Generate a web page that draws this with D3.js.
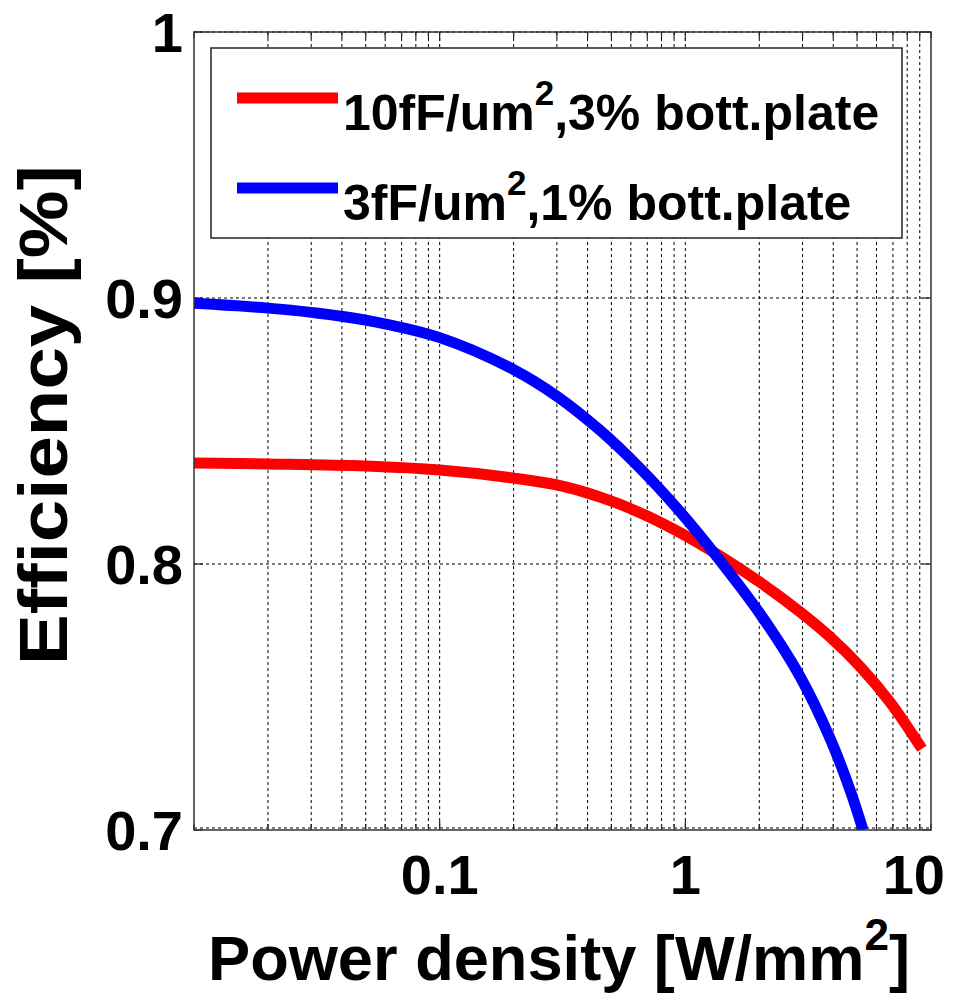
<!DOCTYPE html>
<html>
<head>
<meta charset="utf-8">
<script src="https://cdn.jsdelivr.net/npm/d3@7"></script>
<style>
  body { margin: 0; background: #fff; }
  text { font-family: "Liberation Sans", Arial, sans-serif; font-weight: bold; }
</style>
</head>
<body>
<div id="chart"></div>
<script>
// data
var redPower = [0.01, 0.02, 0.05, 0.1, 0.2, 0.3, 0.449, 0.654, 0.951, 1.384, 2.014, 2.93, 3.88, 5.14, 6.81, 9.19];
var redEff   = [0.838, 0.8376, 0.8368, 0.8353, 0.8323, 0.8297, 0.8252, 0.8193, 0.8118, 0.803, 0.7931, 0.782, 0.7726, 0.7615, 0.7481, 0.7305];
var bluePower = [0.01, 0.02, 0.03, 0.05, 0.1, 0.2, 0.3, 0.449, 0.654, 0.951, 1.384, 2.014, 2.93, 3.88, 4.68, 5.29];
var blueEff   = [0.898, 0.8962, 0.8946, 0.8917, 0.8851, 0.8731, 0.8631, 0.8503, 0.836, 0.8197, 0.8013, 0.7813, 0.7577, 0.7345, 0.7151, 0.700];
var xTickLabels = ["0.1", "1", "10"];
var yTickLabels = ["0.7", "0.8", "0.9", "1"];
var legendNames = [["10fF/um", "2", ",3% bott.plate"], ["3fF/um", "2", ",1% bott.plate"]];
var seriesColors = ["#ff0000", "#0000ff"];

var W = 965, H = 994;
var margin = { top: 32, right: 34, bottom: 164, left: 194 };

var svg = d3.select("#chart").append("svg")
    .attr("width", W)
    .attr("height", H);

var x = d3.scaleLog().domain([0.01, 10]).range([margin.left, W - margin.right]);
var y = d3.scaleLinear().domain([0.7, 1]).range([H - margin.bottom, margin.top]);

// grid (dotted)
var gridX = [];
[0.01, 0.1, 1].forEach(function(dec){
	for (var k = 1; k <= 9; k++) gridX.push(dec * k);
});
gridX.push(10);
var gridY = [0.7, 0.8, 0.9, 1];

var grid = svg.append("g").attr("id", "grid");
grid.selectAll(".gx").data(gridX.slice(1, -1)).join("line")
	.attr("x1", d => x(d)).attr("x2", d => x(d))
	.attr("y1", y(1)).attr("y2", y(0.7))
	.attr("stroke", "#000").attr("stroke-width", 1)
	.attr("stroke-dasharray", "3,3");
grid.selectAll(".gy").data(gridY).join("line")
	.attr("x1", x(0.01)).attr("x2", x(10))
	.attr("y1", d => y(d) - (d == 0.7 ? 2 : 0)).attr("y2", d => y(d) - (d == 0.7 ? 2 : 0))
	.attr("stroke", "#000").attr("stroke-width", 1)
	.attr("stroke-dasharray", "3,3");

// ticks inside the frame
var ticks = svg.append("g").attr("id", "ticks");
gridX.forEach(function(d){
	var len = (d == 0.1 || d == 1) ? 9 : 6;
	ticks.append("line").attr("x1", x(d)).attr("x2", x(d)).attr("y1", y(0.7)).attr("y2", y(0.7) - len);
	ticks.append("line").attr("x1", x(d)).attr("x2", x(d)).attr("y1", y(1)).attr("y2", y(1) + len);
});
gridY.forEach(function(d){
	ticks.append("line").attr("x1", x(0.01)).attr("x2", x(0.01) + 9).attr("y1", y(d)).attr("y2", y(d));
	ticks.append("line").attr("x1", x(10)).attr("x2", x(10) - 9).attr("y1", y(d)).attr("y2", y(d));
});
ticks.selectAll("line").attr("stroke", "#222").attr("stroke-width", 1.2);

// lines
var line = d3.line()
	.x(d => x(d[0]))
	.y(d => y(d[1]))
	.curve(d3.curveCatmullRom.alpha(0.5));

var series = [d3.zip(redPower, redEff), d3.zip(bluePower, blueEff)];
svg.append("defs").append("clipPath").attr("id", "clip")
	.append("rect")
	.attr("x", x(0.01)).attr("y", y(1))
	.attr("width", x(10) - x(0.01)).attr("height", y(0.7) - y(1));
svg.append("g").attr("clip-path", "url(#clip)")
	.selectAll("path").data(series).join("path")
	.attr("d", line)
	.attr("fill", "none")
	.attr("stroke", (d, i) => seriesColors[i])
	.attr("stroke-width", 11);

// frame
svg.append("rect")
	.attr("x", x(0.01)).attr("y", y(1))
	.attr("width", x(10) - x(0.01)).attr("height", y(0.7) - y(1))
	.attr("fill", "none").attr("stroke", "#333").attr("stroke-width", 1.5);

// tick labels
svg.append("g").selectAll("text").data(xTickLabels).join("text")
	.attr("x", (d, i) => i == xTickLabels.length - 1 ? x(+d) + 14 : x(+d))
	.attr("y", 894)
	.attr("text-anchor", (d, i) => i == xTickLabels.length - 1 ? "end" : "middle")
	.attr("font-size", 56)
	.text(d => d);
svg.append("g").selectAll("text").data(yTickLabels).join("text")
	.attr("x", 183)
	.attr("y", d => y(+d) + 20)
	.attr("text-anchor", "end")
	.attr("font-size", 56)
	.text(d => d);

// axis labels
var xl = svg.append("text")
	.attr("x", 208).attr("y", 980)
	.attr("font-size", 63)
	.attr("textLength", 702)
	.attr("lengthAdjust", "spacingAndGlyphs");
xl.append("tspan").text("Power density [W/mm");
xl.append("tspan").attr("font-size", 44).attr("dy", -30).text("2");
xl.append("tspan").attr("dy", 30).text("]");

svg.append("text")
	.attr("transform", "translate(67,415) rotate(-90)")
	.attr("text-anchor", "middle")
	.attr("font-size", 68)
	.attr("textLength", 500)
	.attr("lengthAdjust", "spacingAndGlyphs")
	.text("Efficiency [%]");

// legend
var legend = svg.append("g").attr("id", "legend");
legend.append("rect")
	.attr("x", 211).attr("y", 48)
	.attr("width", 691).attr("height", 190)
	.attr("fill", "#fff").attr("stroke", "#222").attr("stroke-width", 1.5);
var items = legend.selectAll(".item").data(legendNames).join("g")
	.attr("transform", (d, i) => `translate(0, ${98 + i * 90})`);
items.append("line")
	.attr("x1", 237).attr("x2", 338)
	.attr("y1", 0).attr("y2", 0)
	.attr("stroke", (d, i) => seriesColors[i])
	.attr("stroke-width", 11);
var lt = items.append("text")
	.attr("x", 343).attr("y", 32)
	.attr("font-size", 50);
lt.append("tspan").text(d => d[0]);
lt.append("tspan").attr("font-size", 35).attr("dy", -25).text(d => d[1]);
lt.append("tspan").attr("dy", 25).text(d => d[2]);
</script>
</body>
</html>
